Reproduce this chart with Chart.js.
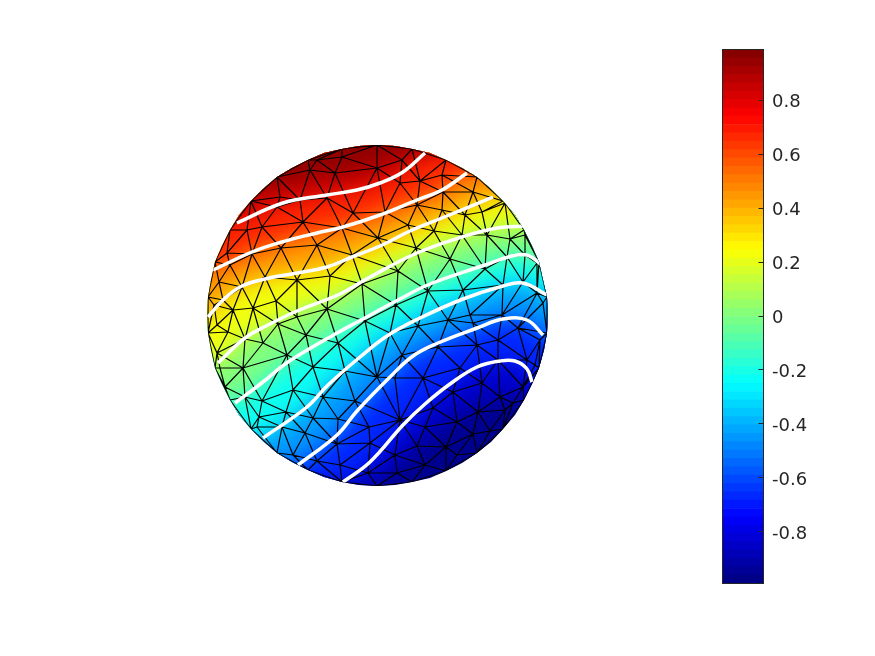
<!DOCTYPE html>
<html>
<head>
<meta charset="utf-8">
<script src="https://cdn.jsdelivr.net/npm/chart.js@4"></script>
<style>
  html, body { margin: 0; background: #fff; }
  canvas { position: absolute; top: 0; }
  #sphere { left: 0; }
  #bar { left: 700px; }
</style>
</head>
<body>
<canvas id="sphere" width="875" height="656"></canvas>
<canvas id="bar" width="175" height="656"></canvas>
<script>
// sphere silhouette, read clockwise from the top
const outline = [[0,170],[18,169],[35,166],[53,162],[69,155],[85,147],[100,138],[114,126],[126,114],[138,100],[147,85],[155,69],[162,53],[166,35],[170,18],[171,0],[170,-18],[167,-35],[162,-53],[155,-69],[147,-85],[138,-100],[126,-114],[114,-127],[100,-138],[85,-148],[69,-156],[53,-163],[35,-167],[18,-170],[0,-171],[-18,-170],[-35,-167],[-53,-162],[-69,-155],[-85,-147],[-100,-138],[-114,-126],[-126,-114],[-138,-100],[-147,-85],[-155,-69],[-162,-53],[-166,-35],[-169,-18],[-170,0],[-169,18],[-166,35],[-162,53],[-155,69],[-147,85],[-138,100],[-126,114],[-114,126],[-100,138],[-85,147],[-69,155],[-53,162],[-35,166],[-18,169]];

// mesh nodes on the front of the sphere
const nodes = [[-35,158],[-67,145],[-97,118],[-42,142],[-50,117],[-77,115],[-24,102],[-74,93],[-115,88],[-35,87],[1,77],[-60,70],[-96,67],[-125,61],[-147,50],[-25,60],[-47,39],[-80,35],[-112,38],[-135,28],[-154,15],[-15,31],[-50,6],[-101,14],[-124,7],[-144,5],[-80,-2],[-60,155],
  [25,155],[0,147],[43,134],[65,140],[23,132],[66,123],[96,123],[8,103],[40,110],[65,105],[88,100],[105,103],[128,112],[31,90],[57,84],[85,80],[110,80],[133,76],[148,80],[39,67],[73,56],[21,44],[108,46],[130,58],[148,60],[160,52],[51,24],[86,25],[126,30],[146,33],[19,10],[125,0],[160,22],[166,12],[93,0],
  [-149,-17],[-132,-24],[-114,-28],[-99,-9],[-71,-20],[-12,-6],[-39,-28],[-90,-40],[-134,-53],[-64,-52],[-32,-56],[0,-62],[-84,-75],[-115,-86],[-132,-82],[-54,-82],[-22,-86],[-91,-97],[-118,-102],[-64,-103],[-39,-104],[-8,-112],[-95,-112],[-72,-118],[-40,-129],[-84,-140],[-60,-146],[-37,-150],[-9,-158],[-157,-53],[-160,-38],[-152,-72],
  [71,-5],[96,-8],[41,-11],[13,-18],[141,-13],[121,-25],[163,-25],[25,-40],[61,-32],[100,-30],[83,-53],[121,-45],[150,-45],[18,-63],[46,-63],[105,-68],[123,-82],[136,-88],[76,-77],[56,-93],[23,-105],[48,-112],[80,-107],[101,-97],[96,-119],[113,-116],[40,-131],[69,-132],[18,-140],[-7,-128],[48,-150],[20,-158],[146,-72],
  [-160,-10],[-163,10],[-158,33],[-150,62],[-130,85],[-100,108],[128,-95],[80,-140],[158,-50],[-120,-112]];

// white level curves, top to bottom
const line1 = [[-140,92],[-94,112],[-50,120],[-20,125],[3,132],[26,143],[48,162]];
const line2 = [[-164,45],[-125,63],[-95,73],[-60,82],[-34,88],[3,100],[40,115],[65,125],[90,142]];
const line3 = [[-169,-2],[-154,15],[-135,29],[-108,37],[-80,42],[-50,48],[-25,58],[3,69],[33,84],[65,97],[116,118]];
const line4 = [[-159,-48],[-132,-23],[-109,-10],[-80,4],[-37,21],[-7,38],[40,62],[85,78],[120,87],[150,89]];
const line5 = [[-142,-88],[-114,-67],[-89,-47],[-40,-18],[-14,-4],[21,15],[53,31],[108,50],[135,59],[150,60],[165,50]];
const line6 = [[-114,-123],[-70,-92],[-49,-70],[-17,-42],[10,-21],[41,-4],[86,16],[126,29],[146,32],[170,20]];
const line7 = [[-79,-150],[-40,-120],[-20,-96],[13,-62],[36,-41],[61,-28],[100,-13],[126,-4],[150,-5],[166,-20]];
const line8 = [[-34,-167],[-7,-147],[26,-110],[48,-89],[73,-69],[100,-52],[123,-46],[138,-46],[150,-54],[155,-67]];
const levelLines = [line8, line7, line6, line5, line4, line3, line2, line1];

// darker patches at the two poles
const topPatch = [[-115,125],[-60,138],[-15,145],[25,160],[48,170]];
const bottomPatch = [[-10,-172],[10,-160],[40,-130],[70,-105],[100,-88],[130,-80],[155,-85]];
const floorLine = [[-200,-190],[200,-190]];

// colour value above each curve, bottom to top
const fillCurves = [floorLine, bottomPatch, line8, line7, line6, line5, line4, line3, line2, line1, topPatch];
const fillValues = [-0.96, -0.84, -0.667, -0.444, -0.222, 0, 0.222, 0.444, 0.667, 0.84, 0.96];

// colorbar
const barEdges = [-0.990,-0.959,-0.928,-0.897,-0.866,-0.835,-0.804,-0.773,-0.743,-0.712,-0.681,-0.650,-0.619,-0.588,-0.557,-0.526,-0.495,-0.464,-0.433,-0.402,-0.371,-0.340,-0.309,-0.278,-0.248,-0.217,-0.186,-0.155,-0.124,-0.093,-0.062,-0.031,0,0.031,0.062,0.093,0.124,0.155,0.186,0.217,0.248,0.278,0.309,0.340,0.371,0.402,0.433,0.464,0.495,0.526,0.557,0.588,0.619,0.650,0.681,0.712,0.743,0.773,0.804,0.835,0.866,0.897,0.928,0.959,0.990];
const barTicks = [0.8, 0.6, 0.4, 0.2, 0, -0.2, -0.4, -0.6, -0.8];

function jet(v) {
  const t = (v + 0.99) / 1.98;
  const c = (k) => Math.round(255 * Math.max(0, Math.min(1, 1.5 - Math.abs(4 * t - k))));
  return "rgb(" + c(3) + "," + c(2) + "," + c(1) + ")";
}

function toPoints(list) {
  return list.map((p) => ({ x: p[0], y: p[1] }));
}

// Delaunay edges for the mesh nodes
function meshEdges(pts) {
  const all = pts.concat([[-2000, -2000], [2000, -2000], [0, 2000]]);
  const n = pts.length;
  let tris = [[n, n + 1, n + 2]];
  const inCircle = (t, p) => {
    const [ax, ay] = all[t[0]], [bx, by] = all[t[1]], [cx, cy] = all[t[2]];
    const d = 2 * (ax * (by - cy) + bx * (cy - ay) + cx * (ay - by));
    const ux = ((ax * ax + ay * ay) * (by - cy) + (bx * bx + by * by) * (cy - ay) + (cx * cx + cy * cy) * (ay - by)) / d;
    const uy = ((ax * ax + ay * ay) * (cx - bx) + (bx * bx + by * by) * (ax - cx) + (cx * cx + cy * cy) * (bx - ax)) / d;
    return (p[0] - ux) ** 2 + (p[1] - uy) ** 2 < (ax - ux) ** 2 + (ay - uy) ** 2;
  };
  pts.forEach((p, i) => {
    const bad = tris.filter((t) => inCircle(t, p));
    const count = {};
    bad.forEach((t) => {
      [[t[0], t[1]], [t[1], t[2]], [t[2], t[0]]].forEach((e) => {
        const k = Math.min(e[0], e[1]) + "-" + Math.max(e[0], e[1]);
        count[k] = (count[k] || 0) + 1;
      });
    });
    tris = tris.filter((t) => !bad.includes(t));
    Object.keys(count).forEach((k) => {
      if (count[k] === 1) {
        const e = k.split("-").map(Number);
        tris.push([e[0], e[1], i]);
      }
    });
  });
  const seen = {};
  const out = [];
  tris.forEach((t) => {
    [[t[0], t[1]], [t[1], t[2]], [t[2], t[0]]].forEach((e) => {
      if (e[0] >= n || e[1] >= n) return;
      const k = Math.min(e[0], e[1]) + "-" + Math.max(e[0], e[1]);
      if (seen[k]) return;
      seen[k] = true;
      out.push({ x: pts[e[0]][0], y: pts[e[0]][1] }, { x: pts[e[1]][0], y: pts[e[1]][1] }, { x: NaN, y: NaN });
    });
  });
  return out;
}

const sphereSets = [];
fillCurves.forEach((curve, i) => {
  // carry each curve past the rim so the fill closes outside the clip
  const first = curve[0];
  const last = curve[curve.length - 1];
  const wide = [[first[0] - 80, first[1]]].concat(curve, [[last[0] + 80, last[1]]]);
  sphereSets.push({
    data: toPoints(wide),
    fill: "end",
    backgroundColor: jet(fillValues[i]),
    borderColor: "transparent",
    borderWidth: 1,
    pointRadius: 0,
    order: 100 - i,
  });
});
const lastFill = sphereSets.length - 1;

sphereSets.push({
  data: meshEdges(outline.filter((p, i) => i % 2 === 0).concat(nodes)),
  borderColor: "#000",
  borderWidth: 1.2,
  pointRadius: 0,
  fill: false,
  order: 2,
});
levelLines.forEach((curve) => {
  sphereSets.push({
    data: toPoints(curve),
    borderColor: "#fff",
    borderWidth: 3.5,
    pointRadius: 0,
    tension: 0.4,
    fill: false,
    order: 1,
  });
});

// clip everything to the silhouette and soften the colour layers
const sphereClip = {
  id: "sphereClip",
  beforeDatasetsDraw(chart) {
    const ctx = chart.ctx;
    const sx = chart.scales.x;
    const sy = chart.scales.y;
    ctx.save();
    ctx.beginPath();
    outline.forEach((p, i) => {
      const px = sx.getPixelForValue(p[0]);
      const py = sy.getPixelForValue(p[1]);
      if (i === 0) ctx.moveTo(px, py);
      else ctx.lineTo(px, py);
    });
    ctx.closePath();
    ctx.clip();
    ctx.filter = "blur(11px)";
  },
  afterDatasetDraw(chart, args) {
    if (args.index === lastFill) chart.ctx.filter = "none";
  },
  afterDatasetsDraw(chart) {
    chart.ctx.restore();
  },
};

new Chart(document.getElementById("sphere"), {
  type: "line",
  data: { datasets: sphereSets },
  options: {
    responsive: false,
    animation: false,
    events: [],
    layout: { padding: 0 },
    plugins: { legend: { display: false }, tooltip: { enabled: false } },
    scales: {
      x: { type: "linear", display: false, min: -377, max: 498 },
      y: { type: "linear", display: false, min: -341, max: 315 },
    },
  },
  plugins: [sphereClip],
});

// colorbar frame and inner tick marks
const barFrame = {
  id: "barFrame",
  afterDraw(chart) {
    const ctx = chart.ctx;
    const a = chart.chartArea;
    ctx.save();
    ctx.strokeStyle = "#262626";
    ctx.lineWidth = 1;
    ctx.strokeRect(a.left, a.top, a.right - a.left, a.bottom - a.top);
    ctx.beginPath();
    barTicks.forEach((v) => {
      const py = Math.round(chart.scales.y.getPixelForValue(v)) - 0.5;
      ctx.moveTo(a.right - 5, py);
      ctx.lineTo(a.right, py);
    });
    ctx.stroke();
    ctx.restore();
  },
};

const barSets = barEdges.slice(0, -1).map((lo, i) => ({
  data: [[lo, barEdges[i + 1]]],
  backgroundColor: jet((lo + barEdges[i + 1]) / 2),
  grouped: false,
  barPercentage: 1,
  categoryPercentage: 1,
}));

new Chart(document.getElementById("bar"), {
  type: "bar",
  data: { labels: [""], datasets: barSets },
  options: {
    responsive: false,
    animation: false,
    events: [],
    layout: { padding: { left: 22.5, top: 49.5, bottom: 72.5, right: 0 } },
    plugins: { legend: { display: false }, tooltip: { enabled: false } },
    scales: {
      x: { display: false },
      y: { display: false, min: -0.99, max: 0.99 },
      // label axis sits a hair lower than the bar scale, as in the picture
      labels: {
        axis: "y",
        type: "linear",
        position: "right",
        min: -0.9826,
        max: 0.9974,
        afterFit(scale) { scale.width = 111.5; },
        afterBuildTicks(scale) { scale.ticks = barTicks.map((v) => ({ value: v })); },
        grid: { display: false, drawTicks: false, tickLength: 0 },
        border: { display: false },
        ticks: {
          padding: 8.5,
          color: "#262626",
          font: { family: "DejaVu Sans", size: 18 },
          callback: (v) => String(v),
        },
      },
    },
  },
  plugins: [barFrame],
});
</script>
</body>
</html>
